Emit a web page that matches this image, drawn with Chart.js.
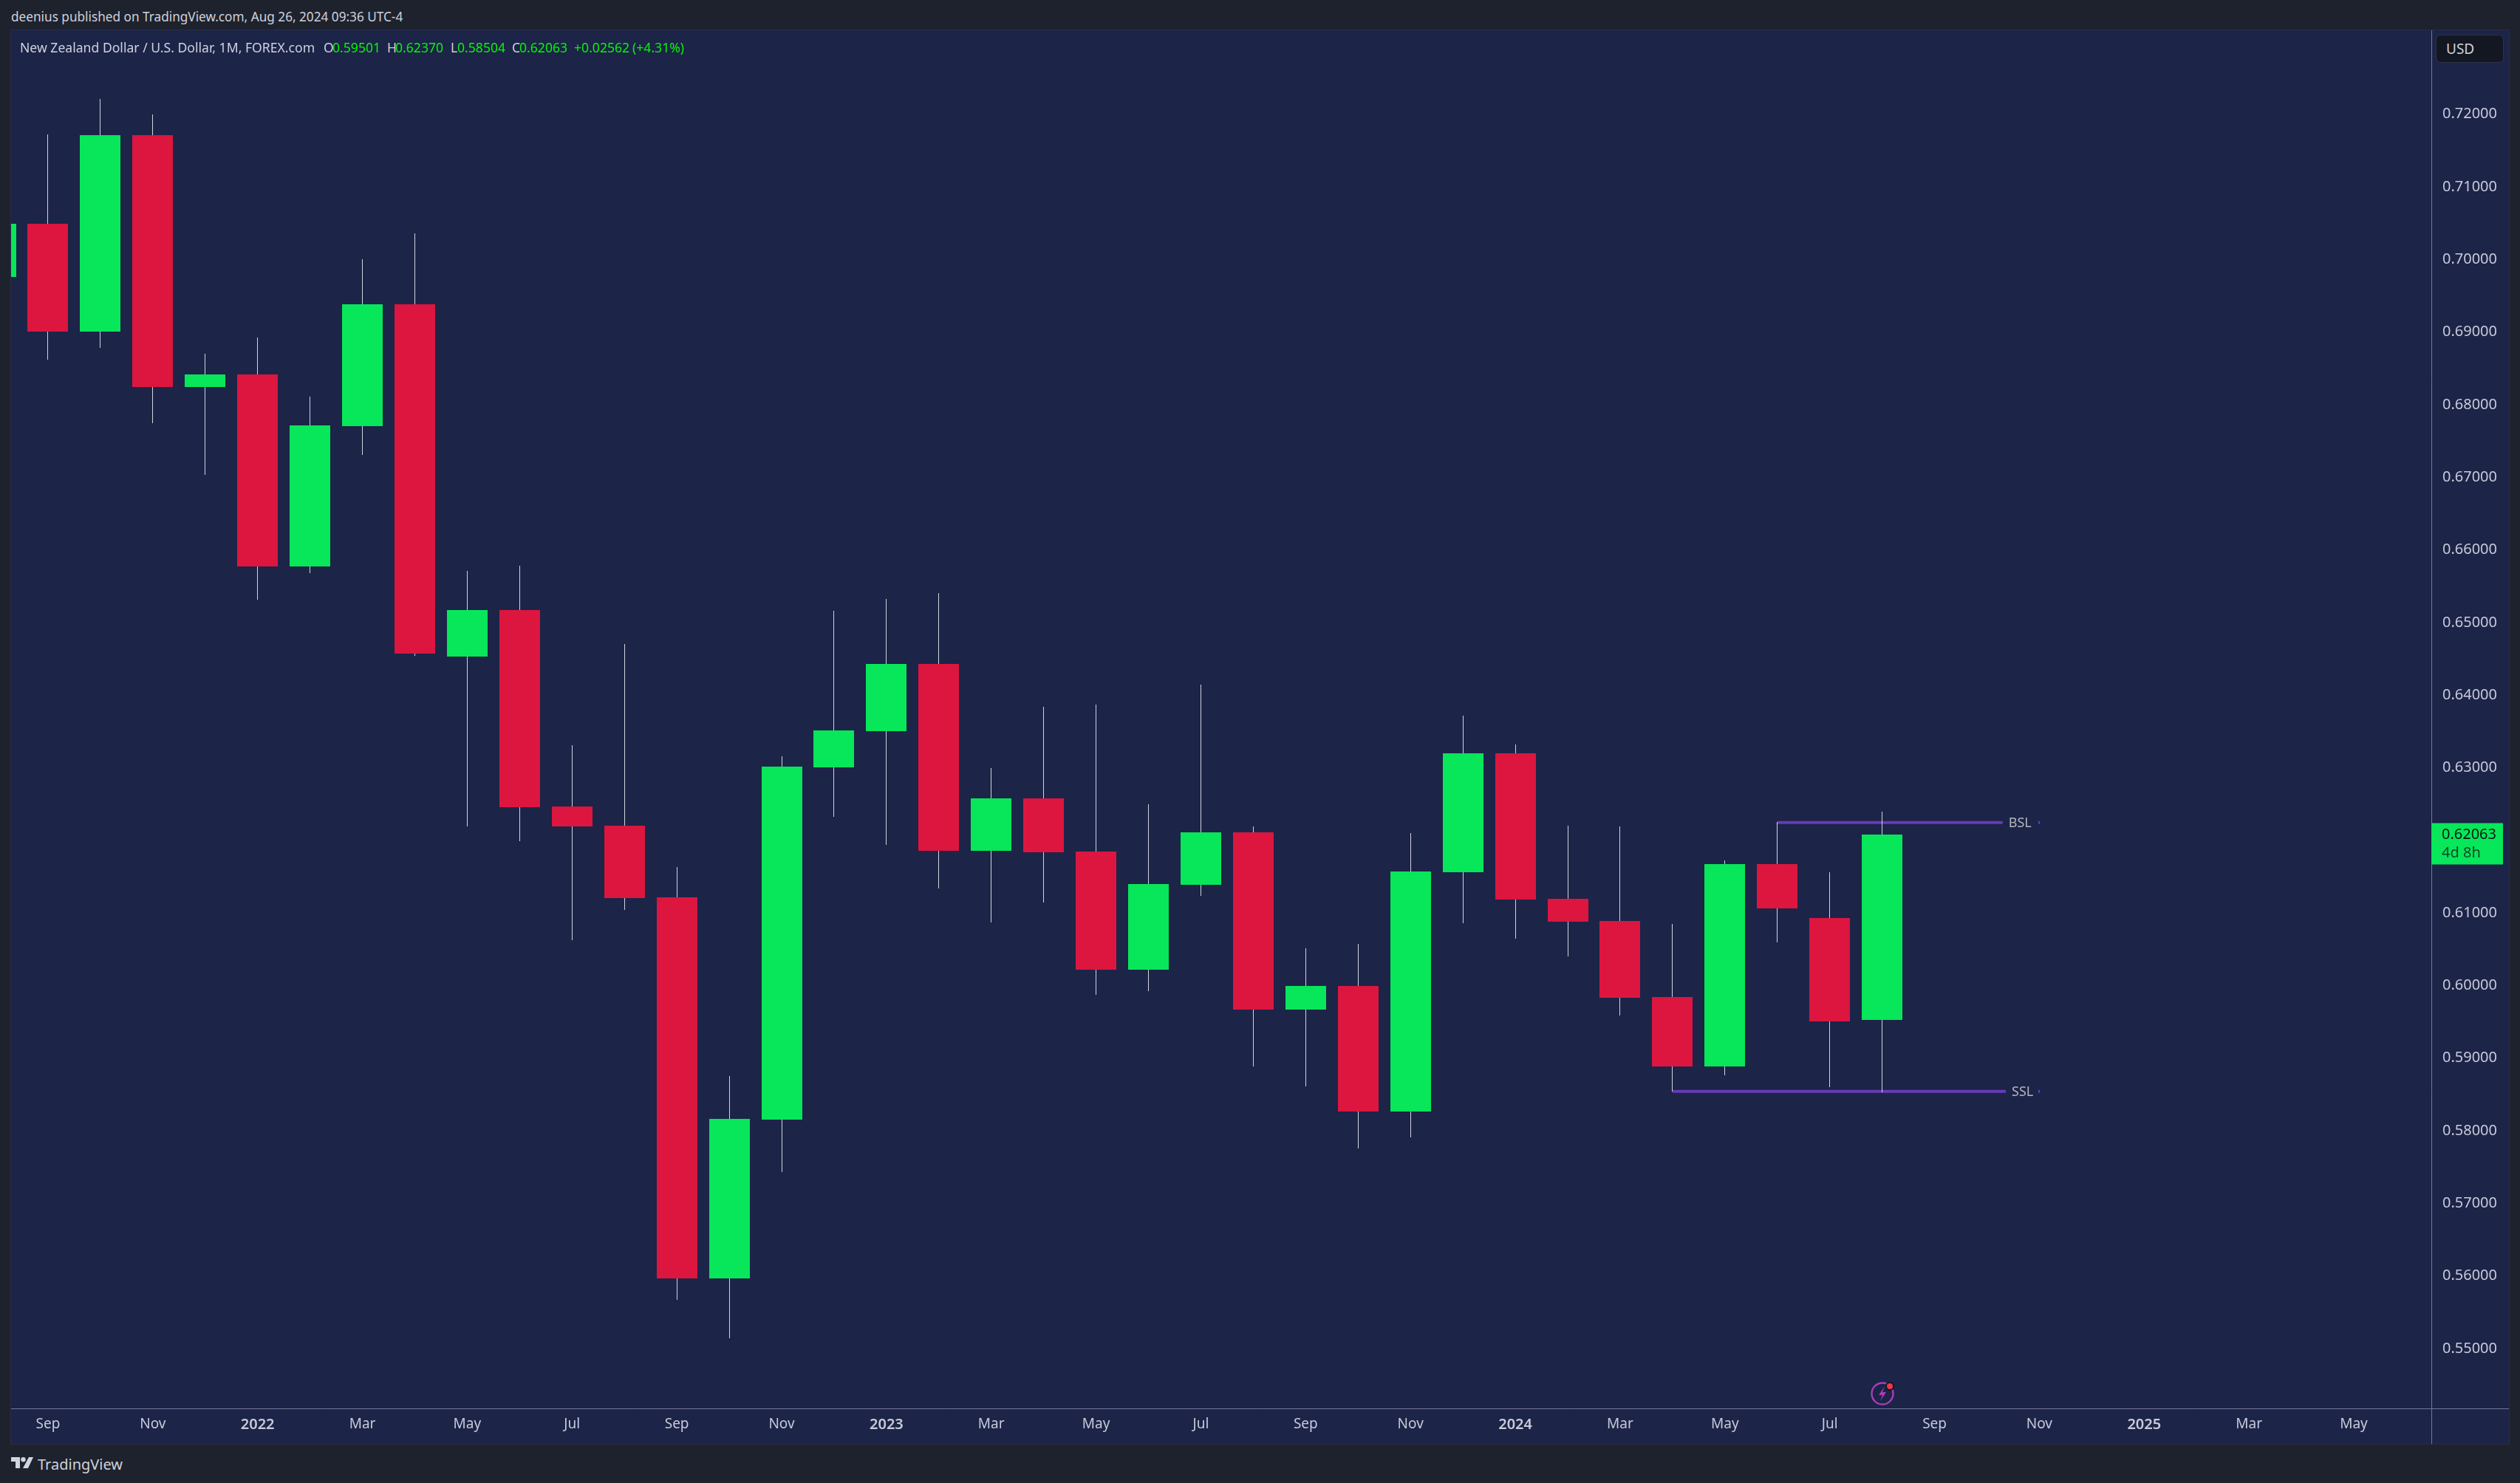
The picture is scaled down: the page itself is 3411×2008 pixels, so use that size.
<!DOCTYPE html>
<html>
<head>
<meta charset="utf-8">
<title>NZDUSD 1M</title>
<script src="https://cdn.jsdelivr.net/npm/chart.js@4"></script>
<style>
    html, body { margin: 0; width: 3411px; height: 2008px; overflow: hidden; background: #1e222d; font-family: "Noto Sans", sans-serif; }
    .txt { position: absolute; white-space: nowrap; color: #cfd1dc; }
    #panel { position: absolute; left: 15px; top: 41px; }
    #header { left: 15px; top: 10px; font-size: 17.2px; line-height: 26px; }
    #legend { left: 27px; top: 51px; font-size: 17.6px; line-height: 26px; }
    #legend b { font-weight: 400; color: #0af20a; }
    #legend span { position: absolute; top: 0; }
    #usd { left: 3297px; top: 47px; width: 92px; height: 38px; box-sizing: border-box; background: #131722; border: 1px solid #2f3345; border-radius: 7px; font-size: 19px; line-height: 36px; padding-left: 13px; }
    #brand { left: 51px; top: 1969px; font-size: 20px; line-height: 28px; }
    svg { position: absolute; }
</style>
</head>
<body>
<div class="txt" id="header">deenius published on TradingView.com, Aug 26, 2024 09:36 UTC-4</div>
<div id="panel"><canvas id="chart" width="3381" height="1914"></canvas></div>
<div class="txt" id="legend">New Zealand Dollar / U.S. Dollar, 1M, FOREX.com
    <span style="left:411px">O</span><span style="left:423px"><b>0.59501</b></span>
    <span style="left:497px">H</span><span style="left:508px"><b>0.62370</b></span>
    <span style="left:583px">L</span><span style="left:592px"><b>0.58504</b></span>
    <span style="left:666px">C</span><span style="left:676px"><b>0.62063</b></span>
    <span style="left:750px"><b>+0.02562</b></span><span style="left:829px"><b>(+4.31%)</b></span>
</div>
<div class="txt" id="usd">USD</div>
<svg style="left:15px;top:1973px" width="30" height="15" viewBox="0 0 30 15">
    <path d="M0 0H12V15H6V6H0Z M24 0H30L23 15H16Z" fill="#d1d4dc"/><circle cx="16.5" cy="3.2" r="3.2" fill="#d1d4dc"/>
</svg>
<div class="txt" id="brand">TradingView</div>
<svg style="left:2528px;top:1868px" width="40" height="38" viewBox="0 0 40 38">
    <circle cx="20" cy="19" r="14.5" fill="#1c2448" stroke="#a83fb5" stroke-width="2.4"/>
    <path d="M23 9L15 21H20L17 29L25 17H20Z" fill="#a83fb5"/>
    <circle cx="30" cy="9" r="6" fill="#131722"/><circle cx="30" cy="9" r="4" fill="#f23645"/>
</svg>
<script>
"use strict";

// monthly bars, first one is only partly on screen
const months = ["2021-08","2021-09","2021-10","2021-11","2021-12","2022-01","2022-02","2022-03","2022-04","2022-05","2022-06","2022-07","2022-08","2022-09","2022-10","2022-11","2022-12","2023-01","2023-02","2023-03","2023-04","2023-05","2023-06","2023-07","2023-08","2023-09","2023-10","2023-11","2023-12","2024-01","2024-02","2024-03","2024-04","2024-05","2024-06","2024-07","2024-08"];
const opens  = [0.69739,0.70471,0.68986,0.71692,0.68223,0.68396,0.65751,0.67684,0.69362,0.64510,0.65151,0.62445,0.62180,0.61193,0.55944,0.58131,0.62984,0.63482,0.64408,0.61834,0.62556,0.61824,0.60196,0.61366,0.62088,0.59647,0.59972,0.58243,0.61539,0.63177,0.61173,0.60868,0.59820,0.58864,0.61651,0.60908,0.59501];
const highs  = [0.70471,0.71702,0.72190,0.71977,0.68681,0.68904,0.68091,0.69983,0.70339,0.65690,0.65761,0.63289,0.64683,0.61610,0.58731,0.63136,0.65140,0.65303,0.65385,0.62974,0.63818,0.63848,0.62475,0.64123,0.62170,0.60491,0.60552,0.62078,0.63696,0.63299,0.62180,0.62170,0.60827,0.61702,0.62231,0.61539,0.62370];
const lows   = [0.69739,0.68602,0.68762,0.67727,0.67012,0.65296,0.65659,0.67287,0.64520,0.62170,0.61966,0.60603,0.61020,0.55649,0.55120,0.57409,0.62302,0.61916,0.61315,0.60847,0.61122,0.59850,0.59901,0.61214,0.58864,0.58589,0.57734,0.57887,0.60837,0.60624,0.60379,0.59566,0.58518,0.58742,0.60573,0.58579,0.58504];
const closes = [0.70471,0.68986,0.71692,0.68223,0.68396,0.65751,0.67694,0.69362,0.64550,0.65151,0.62434,0.62170,0.61183,0.55944,0.58141,0.62994,0.63492,0.64408,0.61834,0.62556,0.61814,0.60196,0.61376,0.62088,0.59647,0.59972,0.58243,0.61549,0.63177,0.61163,0.60858,0.59810,0.58864,0.61651,0.61041,0.59484,0.62063];

// every second month from Sep 2021, years get the brighter label
const timeLabels = ["Sep","Nov","2022","Mar","May","Jul","Sep","Nov","2023","Mar","May","Jul","Sep","Nov","2024","Mar","May","Jul","Sep","Nov","2025","Mar","May"];
const priceTicks = [0.55,0.56,0.57,0.58,0.59,0.60,0.61,0.62,0.63,0.64,0.65,0.66,0.67,0.68,0.69,0.70,0.71,0.72];

// drawn levels, start and end are in bars from Aug 2021
const levelNames  = ["BSL","SSL"];
const levelPrices = [0.62224,0.58521];
const levelStarts = [34,32];
const levelEnds   = [38.3,38.36];

const GREEN = "#08e65a";
const RED = "#dc163f";
const PURPLE = "#673ab7";
const LABEL = "#c8cad8";
const AXIS = "#74779a";
const BAR_MIN = 0.296;
const BAR_MAX = 46.48;
const UI_FONT = '"Noto Sans", sans-serif';

const isUp = i => closes[i] >= opens[i];
const isYear = i => /^\d/.test(timeLabels[i] || "");
const barColors = months.map((m, i) => isUp(i) ? GREEN : RED);

function levelDataset(k) {
    return {
        type: "line",
        order: 3,
        data: [
            { x: levelStarts[k], y: levelPrices[k] },
            { x: levelEnds[k], y: levelPrices[k] },
            { x: levelEnds[k] + 0.1, y: null },
            { x: 38.98, y: levelPrices[k] },
            { x: 39.01, y: levelPrices[k] }
        ],
        borderColor: PURPLE,
        borderWidth: 4,
        pointRadius: 0,
        spanGaps: false,
        tension: 0
    };
}

// snap the bars to whole pixels so wicks stay hairlines like the original
const snapBars = {
    id: "snapBars",
    beforeDatasetsDraw(chart) {
        chart.data.datasets.forEach((ds, n) => {
            if (ds.type === "line") return;
            chart.getDatasetMeta(n).data.forEach(el => {
                el.x = Math.round(el.x - 0.5) + 0.5;
                el.y = Math.round(el.y);
                el.base = Math.round(el.base);
            });
        });
    }
};

const panelExtras = {
    id: "panelExtras",
    afterDraw(chart) {
        const { ctx, chartArea, scales } = chart;
        const w = chart.width, h = chart.height;
        ctx.save();

        // axis rules run through the whole panel
        ctx.strokeStyle = AXIS;
        ctx.lineWidth = 1;
        ctx.beginPath();
        ctx.moveTo(0, Math.round(chartArea.bottom) + 0.5);
        ctx.lineTo(w, Math.round(chartArea.bottom) + 0.5);
        ctx.moveTo(Math.round(chartArea.right) + 0.5, 0);
        ctx.lineTo(Math.round(chartArea.right) + 0.5, h);
        ctx.stroke();

        // level names
        ctx.font = "18px " + UI_FONT;
        ctx.fillStyle = "#b2b5be";
        ctx.textBaseline = "middle";
        levelNames.forEach((name, k) => {
            ctx.fillText(name, scales.x.getPixelForValue(levelEnds[k]) + 8, scales.y.getPixelForValue(levelPrices[k]) + 1);
        });

        // last price tag
        const last = closes[closes.length - 1];
        const py = scales.y.getPixelForValue(last);
        ctx.fillStyle = GREEN;
        ctx.fillRect(chartArea.right, py - 15, 97, 56);
        ctx.font = "20px " + UI_FONT;
        ctx.fillStyle = "#061a10";
        ctx.fillText(last.toFixed(5), chartArea.right + 14, py + 1);
        ctx.fillStyle = "#0b4a2a";
        ctx.fillText("4d 8h", chartArea.right + 14, py + 26);
        ctx.restore();
    }
};

new Chart(document.getElementById("chart"), {
    data: {
        datasets: [
            levelDataset(0),
            levelDataset(1),
            {
                type: "bar",
                order: 2,
                data: months.map((m, i) => ({ x: i, y: [lows[i], highs[i]] })),
                backgroundColor: "#d1d4dc",
                barThickness: 1,
                inflateAmount: 0,
                grouped: false
            },
            {
                type: "bar",
                order: 1,
                data: months.map((m, i) => ({ x: i, y: [opens[i], closes[i]] })),
                backgroundColor: barColors,
                barThickness: 55,
                inflateAmount: 0,
                grouped: false
            }
        ]
    },
    options: {
        responsive: false,
        animation: false,
        devicePixelRatio: 1,
        layout: { padding: 0 },
        plugins: { legend: { display: false }, tooltip: { enabled: false } },
        scales: {
            x: {
                type: "linear",
                offset: false,
                min: BAR_MIN,
                max: BAR_MAX,
                afterBuildTicks(axis) {
                    axis.ticks = timeLabels.map((t, i) => ({ value: 1 + i * 2 }));
                },
                afterFit(axis) { axis.height = 48; axis.paddingLeft = 0; axis.paddingRight = 0; },
                grid: { display: false, drawTicks: false },
                border: { display: false },
                ticks: {
                    autoSkip: false,
                    maxRotation: 0,
                    padding: 10,
                    color: LABEL,
                    font: ctx => ({ family: UI_FONT, size: isYear(ctx.index) ? 20 : 19, weight: isYear(ctx.index) ? "600" : "400" }),
                    callback: (v, i) => timeLabels[i]
                }
            },
            y: {
                position: "right",
                min: 0.54154,
                max: 0.73136,
                afterBuildTicks(axis) {
                    axis.ticks = priceTicks.map(v => ({ value: v }));
                },
                afterFit(axis) { axis.width = 105; axis.paddingTop = 0; axis.paddingBottom = 0; },
                grid: { display: false, drawTicks: false },
                border: { display: false },
                ticks: {
                    autoSkip: false,
                    crossAlign: "near",
                    padding: 15,
                    labelOffset: 2,
                    color: LABEL,
                    font: { family: UI_FONT, size: 20 },
                    callback: v => v.toFixed(5)
                }
            }
        }
    },
    plugins: [snapBars, panelExtras]
});
</script>
<style>#panel canvas { display: block; background: #1c2448; box-shadow: 0 0 0 1px #2a2e45; }</style>
</body>
</html>
